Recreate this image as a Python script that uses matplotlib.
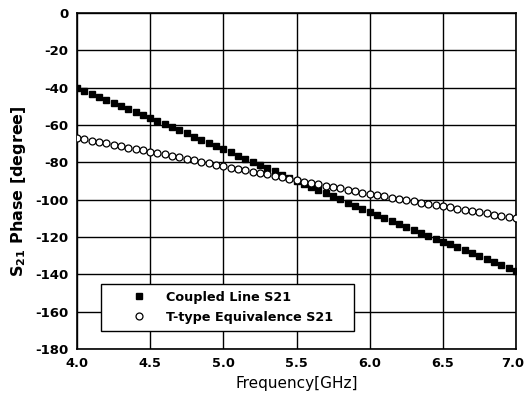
import numpy as np
import matplotlib
matplotlib.use("Agg")
import matplotlib.pyplot as plt
import matplotlib.transforms as mtransforms

plt.rcParams["font.family"] = ["DejaVu Sans"]

# Frequency points (GHz), 0.05 GHz step
freq = np.arange(61) * 0.05 + 4.0

# Coupled line S21 phase (degree)
coupled = [
    -40.0, -41.7, -43.3, -44.9, -46.5, -48.1, -49.7, -51.3, -52.8, -54.4,
    -56.0, -57.7, -59.4, -61.1, -62.8, -64.5, -66.2, -67.9, -69.6, -71.3,
    -73.0, -74.7, -76.4, -78.1, -79.8, -81.5, -83.2, -84.9, -86.6, -88.3,
    -90.0, -91.7, -93.3, -95.0, -96.6, -98.3, -99.9, -101.6, -103.2, -104.9,
    -106.5, -108.1, -109.7, -111.3, -112.9, -114.5, -116.1, -117.7, -119.3, -120.9,
    -122.5, -124.0, -125.6, -127.1, -128.7, -130.2, -131.8, -133.3, -134.9, -136.4,
    -138.0,
]

# T-type equivalence S21 phase (degree)
ttype = [
    -67.0, -67.7, -68.5, -69.2, -69.9, -70.7, -71.4, -72.1, -72.8, -73.6,
    -74.3, -75.1, -75.8, -76.6, -77.4, -78.2, -78.9, -79.7, -80.5, -81.2,
    -82.0, -82.8, -83.5, -84.3, -85.0, -85.8, -86.5, -87.3, -88.0, -88.8,
    -89.5, -90.3, -91.0, -91.8, -92.5, -93.3, -94.0, -94.8, -95.5, -96.3,
    -97.0, -97.7, -98.3, -99.0, -99.6, -100.3, -100.9, -101.6, -102.2, -102.9,
    -103.5, -104.2, -104.8, -105.5, -106.1, -106.8, -107.4, -108.1, -108.7, -109.4,
    -110.0,
]

xticks = [4.0, 4.5, 5.0, 5.5, 6.0, 6.5, 7.0]
yticks = list(range(0, -181, -20))

fig = plt.figure(figsize=(5.26, 4.01), dpi=100)
ax = fig.add_axes([0.1464, 0.1297, 0.8346, 0.8379])

ax.plot(freq, coupled, linestyle="none", marker="s", markersize=4.2,
        color="black", label="Coupled Line S21", zorder=3)
ax.plot(freq, ttype, linestyle="none", marker="o", markersize=5,
        markerfacecolor="white", markeredgecolor="black", markeredgewidth=0.9,
        label="T-type Equivalence S21", zorder=3)

ax.set_xlim(4.0, 7.0)
ax.set_ylim(-180, 0)
ax.set_xticks(xticks)
ax.set_yticks(yticks)
ax.set_xticklabels([f"{t:.1f}" for t in xticks], fontweight="bold", fontsize=9.3)
ax.set_yticklabels([str(t) for t in yticks], fontweight="bold", fontsize=9.5)
ax.tick_params(length=0, pad=6)
ax.grid(True, color="black", linewidth=1.0)
for s in ax.spines.values():
    s.set_linewidth(1.2)

# keep the last x label inside the figure
last = ax.get_xticklabels()[-1]
last.set_transform(last.get_transform() +
                   mtransforms.ScaledTranslation(-3 / 100, 0, fig.dpi_scale_trans))

ax.set_xlabel("Frequency[GHz]", fontsize=11, labelpad=4)
ax.set_ylabel(r"S$_{\mathbf{21}}$ Phase [degree]", fontsize=11.5, fontweight="bold")
ax.yaxis.set_label_coords(-0.112, 0.47)

leg = ax.legend(loc="lower left", bbox_to_anchor=(0.0547, 0.054, 0.576, 0),
                mode="expand", frameon=True,
                fancybox=False, edgecolor="black", framealpha=1,
                prop={"weight": "bold", "size": 9.2}, handletextpad=-0.4,
                borderpad=0.55, labelspacing=0.55, handlelength=4.9,
                borderaxespad=0)
leg.get_frame().set_linewidth(1.0)

fig.savefig("out.png", dpi=100)
